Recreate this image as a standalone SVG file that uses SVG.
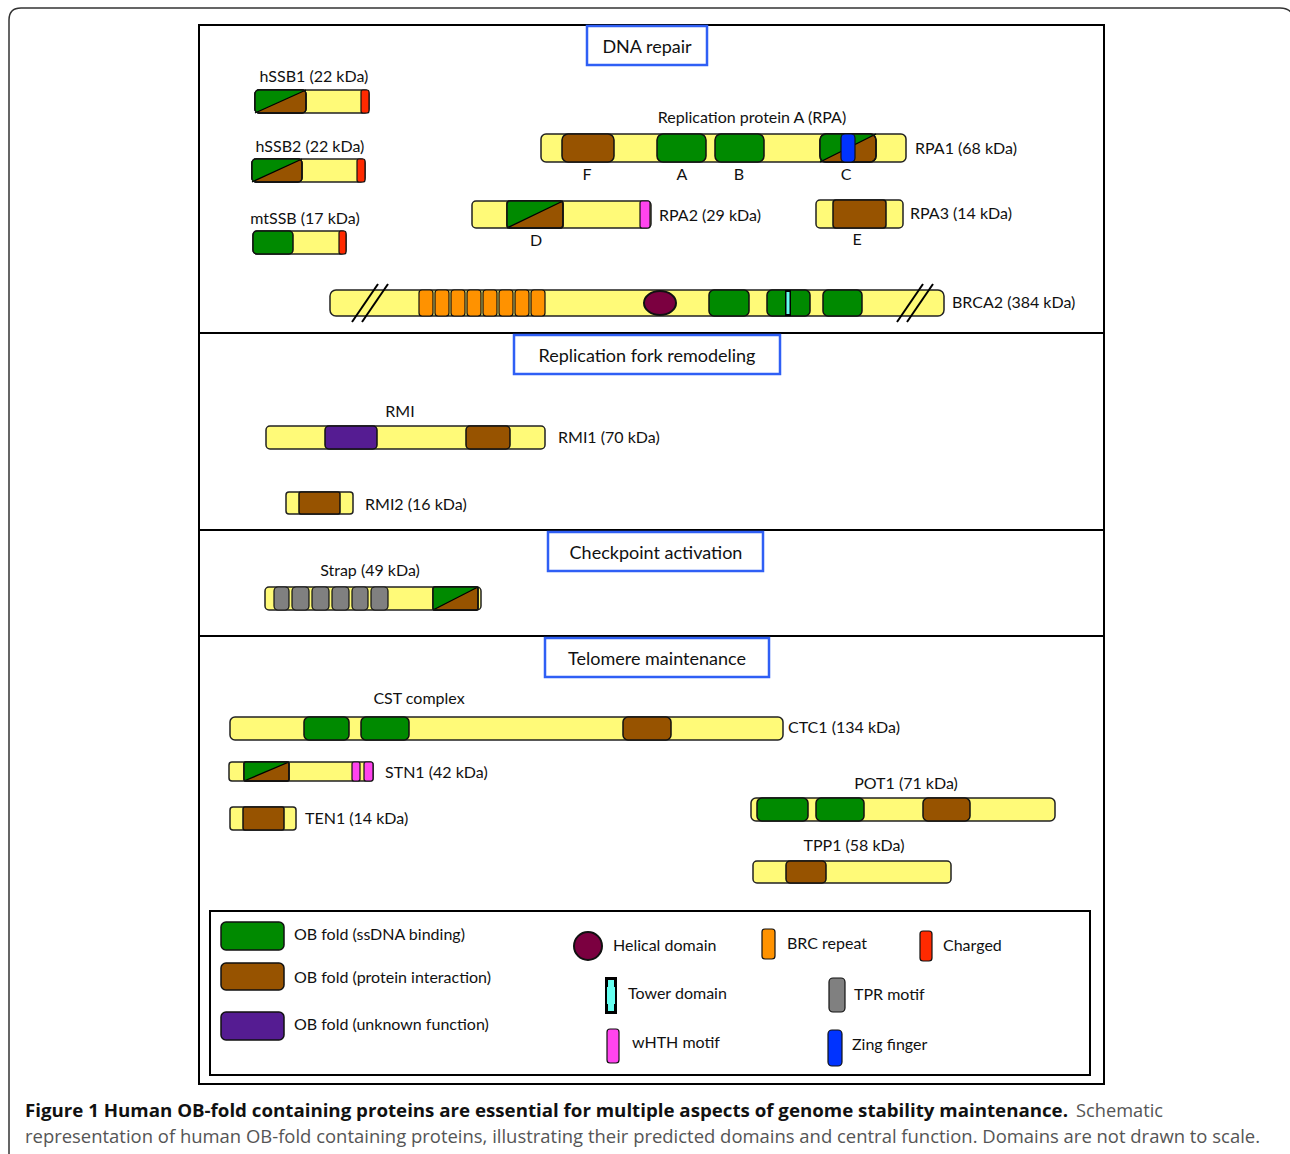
<svg xmlns="http://www.w3.org/2000/svg" width="1290" height="1154" viewBox="0 0 1290 1154">
<style>
text{font-family:Lato,"Open Sans","Liberation Sans",sans-serif;fill:#111;}
.lb{font-size:16px;}
.hd{font-size:18px;text-anchor:middle;}
.mid{text-anchor:middle;}
.bar{fill:#FFFA78;stroke:#222;stroke-width:1.5;}
.g{fill:#008A00;stroke:#111;stroke-width:1.5;}
.br{fill:#975300;stroke:#111;stroke-width:1.5;}
.pu{fill:#551C92;stroke:#111;stroke-width:1.5;}
.rd{fill:#FF2A00;stroke:#111;stroke-width:1.2;}
.mg{fill:#FF44EE;stroke:#111;stroke-width:1.2;}
.bl{fill:#0033FF;stroke:#111;stroke-width:1.2;}
.or{fill:#FF9200;stroke:#111;stroke-width:1.2;}
.gy{fill:#808080;stroke:#111;stroke-width:1.2;}
.hx{fill:#7B0040;stroke:#111;stroke-width:2;}
.cy{fill:#66FFF0;}
.hb{fill:#fff;stroke:#2F5FF5;stroke-width:2.5;}
.sep{stroke:#000;stroke-width:2;}
.dg{stroke:#000;stroke-width:1.3;}
.sl{stroke:#000;stroke-width:2;}
.cap{font-family:"Open Sans","Liberation Sans",sans-serif;font-size:18px;}
</style>
<!-- outer frame -->
<path d="M9,1154 V20 Q9,8 21,8 H1280 Q1289,8 1292,14" fill="none" stroke="#333" stroke-width="1.5"/>
<!-- main box -->
<rect x="199" y="25" width="905" height="1059" fill="#fff" stroke="#000" stroke-width="2"/>
<line class="sep" x1="199" y1="333" x2="1104" y2="333"/>
<line class="sep" x1="199" y1="530" x2="1104" y2="530"/>
<line class="sep" x1="199" y1="636" x2="1104" y2="636"/>

<g id="hdr-dna"><rect class="hb" x="587" y="26" width="120" height="39"/><text class="hd" x="647" y="53">DNA repair</text></g>
<g id="hdr-fork"><rect class="hb" x="514" y="335" width="266" height="39"/><text class="hd" x="647" y="362">Replication fork remodeling</text></g>
<g id="hdr-check"><rect class="hb" x="548" y="532" width="215" height="39"/><text class="hd" x="656" y="559">Checkpoint activation</text></g>
<g id="hdr-telo"><rect class="hb" x="545" y="638" width="224" height="39"/><text class="hd" x="657" y="665">Telomere maintenance</text></g>

<!-- hSSB1 -->
<g id="hSSB1">
<text class="lb mid" x="314" y="82">hSSB1 (22 kDa)</text>
<rect class="bar" x="255" y="90" width="114" height="23" rx="4"/>
<rect class="br" x="255" y="90" width="51" height="23" rx="4"/>
<path d="M255,113 V94 Q255,90 259,90 H306 Z" fill="#008A00"/>
<line class="dg" x1="255" y1="113" x2="306" y2="90"/>
<rect x="255" y="90" width="51" height="23" rx="4" fill="none" stroke="#111" stroke-width="1.5"/>
<rect class="rd" x="361" y="90" width="8" height="23" rx="2"/>
</g>
<!-- hSSB2 -->
<g id="hSSB2">
<text class="lb mid" x="310" y="152">hSSB2 (22 kDa)</text>
<rect class="bar" x="252" y="159" width="113" height="23" rx="4"/>
<rect class="br" x="252" y="159" width="50" height="23" rx="4"/>
<path d="M252,182 V163 Q252,159 256,159 H302 Z" fill="#008A00"/>
<line class="dg" x1="252" y1="182" x2="302" y2="159"/>
<rect x="252" y="159" width="50" height="23" rx="4" fill="none" stroke="#111" stroke-width="1.5"/>
<rect class="rd" x="357" y="159" width="8" height="23" rx="2"/>
</g>
<!-- mtSSB -->
<g id="mtSSB">
<text class="lb mid" x="305" y="224">mtSSB (17 kDa)</text>
<rect class="bar" x="253" y="231" width="93" height="23" rx="4"/>
<rect class="g" x="253" y="231" width="40" height="23" rx="4"/>
<rect class="rd" x="339" y="231" width="7" height="23" rx="2"/>
</g>

<!-- RPA -->
<g id="RPA1">
<text class="lb mid" x="752" y="123">Replication protein A (RPA)</text>
<rect class="bar" x="541" y="134" width="365" height="28" rx="5"/>
<rect class="br" x="562" y="134" width="52" height="28" rx="6"/>
<rect class="g" x="657" y="134" width="49" height="28" rx="6"/>
<rect class="g" x="715" y="134" width="49" height="28" rx="6"/>
<rect class="br" x="820" y="134" width="56" height="28" rx="6"/>
<path d="M820,162 V140 Q820,134 826,134 H876 Z" fill="#008A00"/>
<line class="dg" x1="820" y1="162" x2="876" y2="134"/>
<rect x="820" y="134" width="56" height="28" rx="6" fill="none" stroke="#111" stroke-width="1.5"/>
<rect class="bl" x="841" y="134" width="14" height="28" rx="4"/>
<text class="lb" x="915" y="154">RPA1 (68 kDa)</text>
<text class="lb mid" x="587" y="180">F</text>
<text class="lb mid" x="682" y="180">A</text>
<text class="lb mid" x="739" y="180">B</text>
<text class="lb mid" x="846" y="180">C</text>
</g>
<g id="RPA2">
<rect class="bar" x="472" y="201" width="179" height="27" rx="4"/>
<rect class="br" x="507" y="201" width="56" height="27" rx="3"/>
<path d="M507,228 V204 Q507,201 510,201 H563 Z" fill="#008A00"/>
<line class="dg" x1="507" y1="228" x2="563" y2="201"/>
<rect x="507" y="201" width="56" height="27" rx="3" fill="none" stroke="#111" stroke-width="1.5"/>
<rect class="mg" x="640" y="201" width="10" height="27" rx="2"/>
<text class="lb" x="659" y="221">RPA2 (29 kDa)</text>
<text class="lb mid" x="536" y="246">D</text>
</g>
<g id="RPA3">
<rect class="bar" x="816" y="200" width="87" height="28" rx="4"/>
<rect class="br" x="833" y="200" width="53" height="28" rx="3"/>
<text class="lb" x="910" y="219">RPA3 (14 kDa)</text>
<text class="lb mid" x="857" y="245">E</text>
</g>

<!-- BRCA2 -->
<g id="BRCA2">
<rect class="bar" x="330" y="290" width="614" height="26" rx="6"/>
<rect class="or" x="419" y="290" width="14" height="26" rx="3"/>
<rect class="or" x="435" y="290" width="14" height="26" rx="3"/>
<rect class="or" x="451" y="290" width="14" height="26" rx="3"/>
<rect class="or" x="467" y="290" width="14" height="26" rx="3"/>
<rect class="or" x="483" y="290" width="14" height="26" rx="3"/>
<rect class="or" x="499" y="290" width="14" height="26" rx="3"/>
<rect class="or" x="515" y="290" width="14" height="26" rx="3"/>
<rect class="or" x="531" y="290" width="14" height="26" rx="3"/>
<ellipse class="hx" cx="660" cy="303" rx="16" ry="12"/>
<rect class="g" x="709" y="290" width="40" height="26" rx="5"/>
<rect class="g" x="767" y="290" width="43" height="26" rx="5"/>
<rect x="785" y="290" width="6" height="26" fill="#000"/>
<rect class="cy" x="786.5" y="292" width="3" height="22"/>
<rect class="g" x="823" y="290" width="39" height="26" rx="5"/>
<line class="sl" x1="352" y1="322" x2="378" y2="284"/>
<line class="sl" x1="362" y1="322" x2="388" y2="284"/>
<line class="sl" x1="897" y1="322" x2="923" y2="284"/>
<line class="sl" x1="907" y1="322" x2="933" y2="284"/>
<text class="lb" x="952" y="308">BRCA2 (384 kDa)</text>
</g>

<!-- RMI -->
<g id="RMI1">
<text class="lb mid" x="400" y="417">RMI</text>
<rect class="bar" x="266" y="426" width="279" height="23" rx="4"/>
<rect class="pu" x="325" y="426" width="52" height="23" rx="4"/>
<rect class="br" x="466" y="426" width="44" height="23" rx="4"/>
<text class="lb" x="558" y="443">RMI1 (70 kDa)</text>
</g>
<g id="RMI2">
<rect class="bar" x="286" y="492" width="67" height="22" rx="3"/>
<rect class="br" x="299" y="492" width="41" height="22" rx="2"/>
<text class="lb" x="365" y="510">RMI2 (16 kDa)</text>
</g>

<!-- Strap -->
<g id="Strap">
<text class="lb mid" x="370" y="576">Strap (49 kDa)</text>
<rect class="bar" x="265" y="587" width="216" height="23" rx="4"/>
<rect class="gy" x="274" y="587" width="15" height="23" rx="4"/>
<rect class="gy" x="292" y="587" width="17" height="23" rx="4"/>
<rect class="gy" x="312" y="587" width="17" height="23" rx="4"/>
<rect class="gy" x="332" y="587" width="17" height="23" rx="4"/>
<rect class="gy" x="352" y="587" width="16" height="23" rx="4"/>
<rect class="gy" x="371" y="587" width="17" height="23" rx="4"/>
<rect class="br" x="433" y="587" width="45" height="23" rx="2"/>
<path d="M433,610 V589 Q433,587 435,587 H478 Z" fill="#008A00"/>
<line class="dg" x1="433" y1="610" x2="478" y2="587"/>
<rect x="433" y="587" width="45" height="23" rx="2" fill="none" stroke="#111" stroke-width="1.5"/>
</g>

<!-- Telomere -->
<g id="CTC1">
<text class="lb mid" x="419" y="704">CST complex</text>
<rect class="bar" x="230" y="717" width="553" height="23" rx="5"/>
<rect class="g" x="304" y="717" width="45" height="23" rx="5"/>
<rect class="g" x="361" y="717" width="48" height="23" rx="5"/>
<rect class="br" x="623" y="717" width="48" height="23" rx="5"/>
<text class="lb" x="788" y="733">CTC1 (134 kDa)</text>
</g>
<g id="STN1">
<rect class="bar" x="229" y="762" width="144" height="19" rx="3"/>
<rect class="br" x="244" y="762" width="45" height="19" rx="2"/>
<path d="M244,781 V764 Q244,762 246,762 H289 Z" fill="#008A00"/>
<line class="dg" x1="244" y1="781" x2="289" y2="762"/>
<rect x="244" y="762" width="45" height="19" rx="2" fill="none" stroke="#111" stroke-width="1.5"/>
<rect class="mg" x="352" y="762" width="8" height="19" rx="2"/>
<rect class="mg" x="364" y="762" width="9" height="19" rx="2"/>
<text class="lb" x="385" y="778">STN1 (42 kDa)</text>
</g>
<g id="TEN1">
<rect class="bar" x="230" y="807" width="66" height="23" rx="3"/>
<rect class="br" x="243" y="807" width="41" height="23" rx="2"/>
<text class="lb" x="305" y="824">TEN1 (14 kDa)</text>
</g>
<g id="POT1">
<text class="lb mid" x="906" y="789">POT1 (71 kDa)</text>
<rect class="bar" x="751" y="798" width="304" height="23" rx="5"/>
<rect class="g" x="757" y="798" width="51" height="23" rx="5"/>
<rect class="g" x="816" y="798" width="48" height="23" rx="5"/>
<rect class="br" x="923" y="798" width="47" height="23" rx="5"/>
</g>
<g id="TPP1">
<text class="lb mid" x="854" y="851">TPP1 (58 kDa)</text>
<rect class="bar" x="753" y="861" width="198" height="22" rx="4"/>
<rect class="br" x="786" y="861" width="40" height="22" rx="4"/>
</g>

<!-- Legend -->
<g id="legend">
<rect x="210" y="911" width="880" height="164" fill="#fff" stroke="#000" stroke-width="2"/>
<rect class="g" x="221" y="922" width="63" height="28" rx="5"/>
<text class="lb" x="294" y="940">OB fold (ssDNA binding)</text>
<rect class="br" x="221" y="963" width="63" height="27" rx="5"/>
<text class="lb" x="294" y="983">OB fold (protein interaction)</text>
<rect class="pu" x="221" y="1012" width="63" height="28" rx="5"/>
<text class="lb" x="294" y="1030">OB fold (unknown function)</text>
<circle class="hx" cx="588" cy="946" r="14"/>
<text class="lb" x="613" y="951">Helical domain</text>
<rect x="605" y="977" width="12" height="37" fill="#000"/>
<path class="cy" d="M608,980 H614 V987 H615 V1004 H614 V1011 H608 V1004 H607 V987 H608 Z"/>
<text class="lb" x="628" y="999">Tower domain</text>
<rect class="mg" x="607" y="1029" width="12" height="34" rx="3"/>
<text class="lb" x="632" y="1048">wHTH motif</text>
<rect class="or" x="762" y="929" width="13" height="30" rx="3"/>
<text class="lb" x="787" y="949">BRC repeat</text>
<rect class="gy" x="829" y="978" width="16" height="34" rx="4"/>
<text class="lb" x="854" y="1000">TPR motif</text>
<rect class="bl" x="828" y="1030" width="14" height="36" rx="4"/>
<text class="lb" x="852" y="1050">Zing finger</text>
<rect class="rd" x="920" y="931" width="12" height="30" rx="3"/>
<text class="lb" x="943" y="951">Charged</text>
</g>

<!-- caption -->
<g id="caption">
<text class="cap" x="25" y="1117"><tspan font-weight="bold" textLength="1043" lengthAdjust="spacingAndGlyphs">Figure 1 Human OB-fold containing proteins are essential for multiple aspects of genome stability maintenance.</tspan><tspan fill="#555" x="1076" textLength="87" lengthAdjust="spacingAndGlyphs">Schematic</tspan></text>
<text class="cap" x="25" y="1143" style="fill:#555" textLength="1235" lengthAdjust="spacingAndGlyphs">representation of human OB-fold containing proteins, illustrating their predicted domains and central function. Domains are not drawn to scale.</text>
</g>
</svg>
